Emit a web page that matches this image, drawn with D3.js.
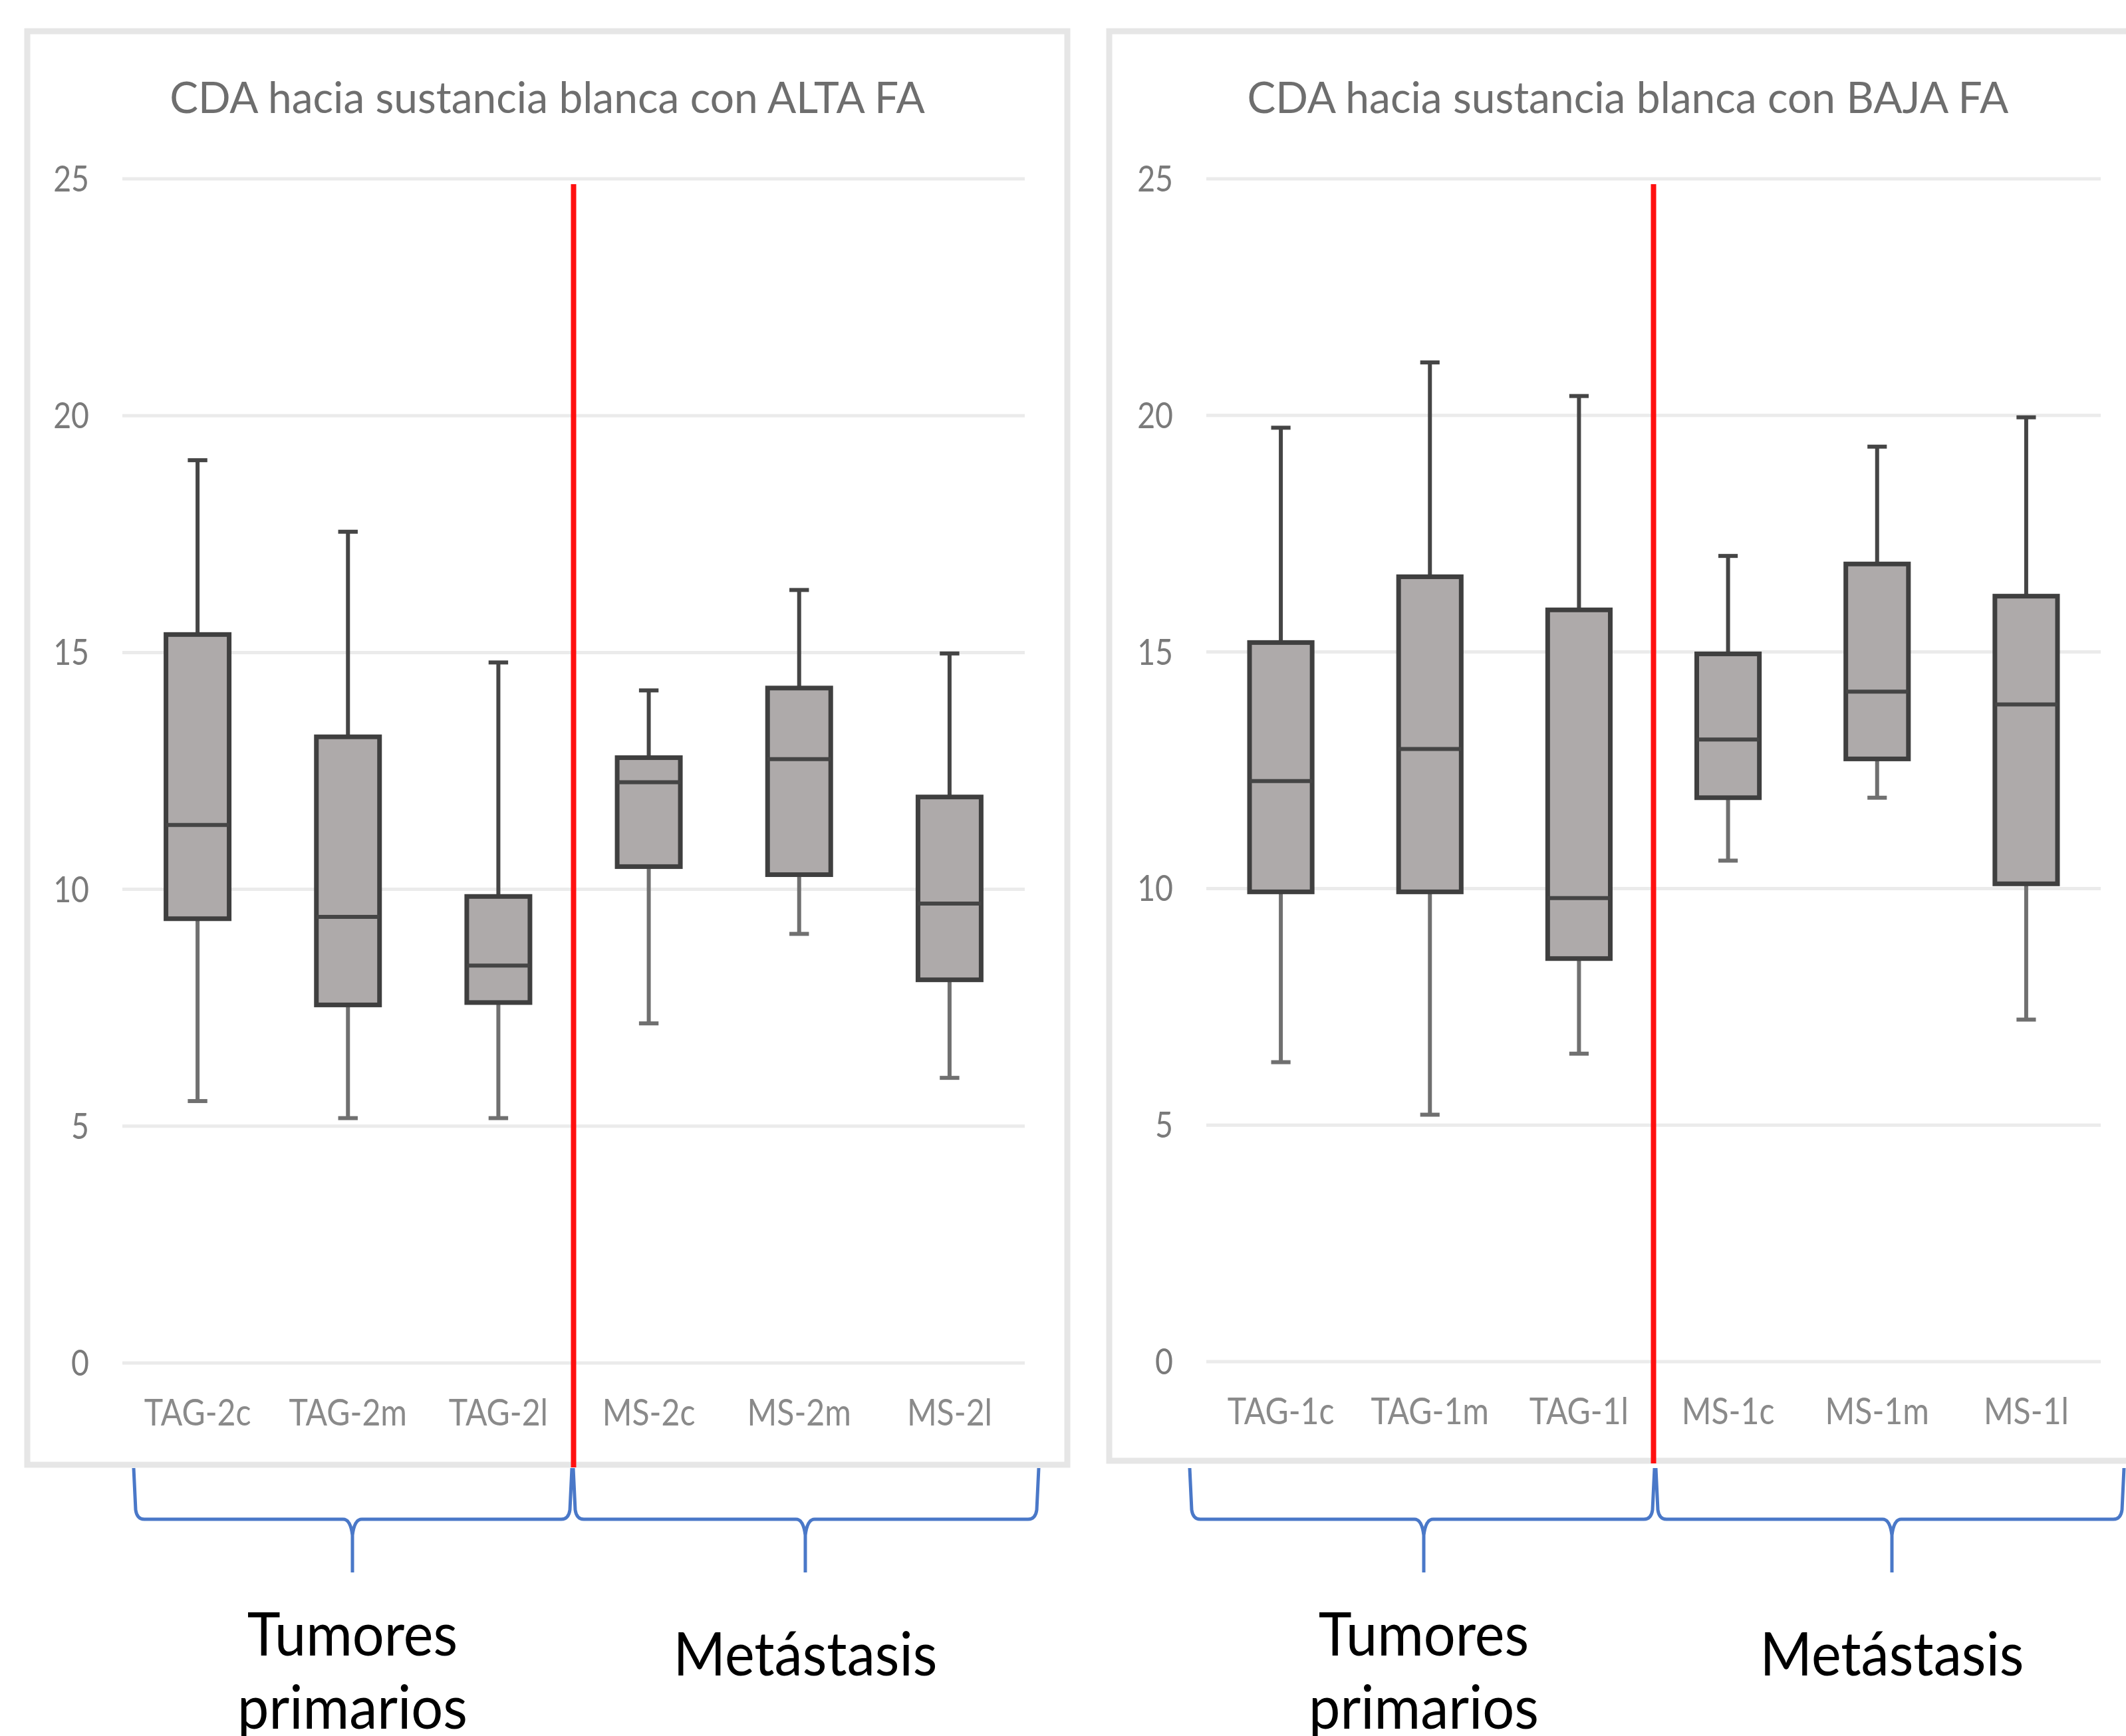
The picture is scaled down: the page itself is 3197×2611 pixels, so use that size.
<!DOCTYPE html>
<html>
<head>
<meta charset="utf-8">
<script src="https://cdn.jsdelivr.net/npm/d3@7"></script>
<style>
  body { margin: 0; background: #fff; }
  text { font-family: Lato, "Open Sans", sans-serif; }
</style>
</head>
<body>
<div id="root"></div>
<script>
// y axis ticks (same for both panels)
var yTicks = [0, 5, 10, 15, 20, 25];

// ALTA FA panel
var altaTitle = "CDA hacia sustancia blanca con ALTA FA";
var altaLabels = ["TAG-2c", "TAG-2m", "TAG-2l", "MS-2c", "MS-2m", "MS-2l"];
var altaMin = [5.53, 5.17, 5.17, 7.17, 9.06, 6.02];
var altaQ1 = [9.38, 7.56, 7.61, 10.48, 10.31, 8.09];
var altaMed = [11.36, 9.42, 8.39, 12.26, 12.75, 9.7];
var altaQ3 = [15.38, 13.22, 9.85, 12.78, 14.25, 11.95];
var altaMax = [19.06, 17.55, 14.79, 14.2, 16.32, 14.98];

// BAJA FA panel
var bajaTitle = "CDA hacia sustancia blanca con BAJA FA";
var bajaLabels = ["TAG-1c", "TAG-1m", "TAG-1l", "MS-1c", "MS-1m", "MS-1l"];
var bajaMin = [6.33, 5.22, 6.51, 10.59, 11.92, 7.23];
var bajaQ1 = [9.93, 9.93, 8.52, 11.92, 12.74, 10.1];
var bajaMed = [12.27, 12.95, 9.8, 13.15, 14.16, 13.89];
var bajaQ3 = [15.2, 16.59, 15.89, 14.96, 16.86, 16.18];
var bajaMax = [19.74, 21.12, 20.41, 17.03, 19.34, 19.96];

// groups under each panel
var groupNames = [["Tumores", "primarios"], ["Metástasis"]];

var W = 3197, H = 2611;

var svg = d3.select("#root").append("svg")
  .attr("width", W)
  .attr("height", H);

svg.append("rect").attr("width", W).attr("height", H).attr("fill", "#fff");

// squeeze a text element horizontally (the original font is narrow)
function squeeze(sel, k) {
  sel.each(function () {
    var n = this.getComputedTextLength();
    d3.select(this).attr("textLength", n * k).attr("lengthAdjust", "spacingAndGlyphs");
  });
}

function brace(x0, x1, xc, yTop, yMid, yTip) {
  var p = d3.path();
  p.moveTo(x0, yTop);
  p.lineTo(x0 + 3, yMid - 14);
  p.quadraticCurveTo(x0 + 5, yMid, x0 + 16, yMid);
  p.lineTo(xc - 14, yMid);
  p.quadraticCurveTo(xc - 3, yMid, xc, yMid + 24);
  p.lineTo(xc, yTip);
  p.moveTo(xc, yMid + 24);
  p.quadraticCurveTo(xc + 3, yMid, xc + 14, yMid);
  p.lineTo(x1 - 16, yMid);
  p.quadraticCurveTo(x1 - 5, yMid, x1 - 3, yMid - 14);
  p.lineTo(x1, yTop);
  return p.toString();
}

function drawPanel(cfg) {
  var g = svg.append("g");

  // chart frame
  g.append("rect")
    .attr("x", cfg.frame[0]).attr("y", cfg.frame[1])
    .attr("width", cfg.frame[2]).attr("height", cfg.frame[3])
    .attr("fill", "#fff")
    .attr("stroke", "#e6e6e6")
    .attr("stroke-width", 9);

  var x = d3.scaleBand()
    .domain(cfg.labels)
    .range([cfg.gx0, cfg.gx1]);

  var y = d3.scaleLinear()
    .domain([0, 25])
    .range([cfg.y0, cfg.y25]);

  // grid lines
  g.append("g").selectAll("line")
    .data(yTicks)
    .enter().append("line")
    .attr("x1", cfg.gx0).attr("x2", cfg.gx1)
    .attr("y1", function (d) { return y(d); })
    .attr("y2", function (d) { return y(d); })
    .attr("stroke", "#ebebeb")
    .attr("stroke-width", 5);

  // y tick labels
  var yl = g.append("g").selectAll("text")
    .data(yTicks)
    .enter().append("text")
    .attr("x", cfg.gx0 - 50)
    .attr("y", function (d) { return y(d) + 19; })
    .attr("text-anchor", "end")
    .attr("font-size", 54)
    .attr("fill", "#7a7a7a")
    .text(function (d) { return d; });
  squeeze(yl, 0.86);

  // x category labels
  var xl = g.append("g").selectAll("text")
    .data(cfg.labels)
    .enter().append("text")
    .attr("x", function (d) { return x(d) + x.bandwidth() / 2; })
    .attr("y", cfg.y0 + 94)
    .attr("text-anchor", "middle")
    .attr("font-size", 56)
    .attr("fill", "#8a8a8a")
    .text(function (d) { return d; });
  squeeze(xl, 0.86);

  // title
  var t = g.append("text")
    .attr("x", cfg.frame[0] + cfg.frame[2] / 2)
    .attr("y", 170)
    .attr("text-anchor", "middle")
    .attr("font-size", 66)
    .attr("fill", "#6e6e6e")
    .text(cfg.title);
  squeeze(t, 0.97);

  // box plots
  var bw = x.bandwidth() * 0.42;
  var cw = x.bandwidth() * 0.13;
  var stroke = "#454545";
  var boxes = g.append("g").selectAll("g")
    .data(cfg.labels)
    .enter().append("g")
    .attr("transform", function (d) { return "translate(" + (x(d) + x.bandwidth() / 2) + ",0)"; });

  boxes.append("line")
    .attr("y1", function (d, i) { return y(cfg.max[i]); })
    .attr("y2", function (d, i) { return y(cfg.q3[i]); })
    .attr("stroke", stroke).attr("stroke-width", 6);
  boxes.append("line")
    .attr("y1", function (d, i) { return y(cfg.q1[i]); })
    .attr("y2", function (d, i) { return y(cfg.min[i]); })
    .attr("stroke", "#707070").attr("stroke-width", 6);
  boxes.append("line")
    .attr("x1", -cw / 2).attr("x2", cw / 2)
    .attr("y1", function (d, i) { return y(cfg.max[i]); })
    .attr("y2", function (d, i) { return y(cfg.max[i]); })
    .attr("stroke", stroke).attr("stroke-width", 6);
  boxes.append("line")
    .attr("x1", -cw / 2).attr("x2", cw / 2)
    .attr("y1", function (d, i) { return y(cfg.min[i]); })
    .attr("y2", function (d, i) { return y(cfg.min[i]); })
    .attr("stroke", "#707070").attr("stroke-width", 6);
  boxes.append("rect")
    .attr("x", -bw / 2)
    .attr("width", bw)
    .attr("y", function (d, i) { return y(cfg.q3[i]); })
    .attr("height", function (d, i) { return y(cfg.q1[i]) - y(cfg.q3[i]); })
    .attr("fill", "#aeaaaa")
    .attr("stroke", "#3f3f3f")
    .attr("stroke-width", 7);
  boxes.append("line")
    .attr("x1", -bw / 2).attr("x2", bw / 2)
    .attr("y1", function (d, i) { return y(cfg.med[i]); })
    .attr("y2", function (d, i) { return y(cfg.med[i]); })
    .attr("stroke", "#454545").attr("stroke-width", 6);

  // red separator between primary tumours and metastases
  var sepX = x(cfg.labels[3]);
  g.append("line")
    .attr("x1", sepX).attr("x2", sepX)
    .attr("y1", cfg.y25 + 8)
    .attr("y2", cfg.frame[1] + cfg.frame[3] + 4)
    .attr("stroke", "#ff1010")
    .attr("stroke-width", 8);

  // braces and group names
  var br = cfg.braces;
  for (var i = 0; i < br.length; i++) {
    g.append("path")
      .attr("d", brace(br[i][0], br[i][1], br[i][2], 2208, 2285, 2365))
      .attr("fill", "none")
      .attr("stroke", "#4a78c8")
      .attr("stroke-width", 5);
    var lab = g.append("text")
      .attr("text-anchor", "middle")
      .attr("font-size", 92)
      .attr("fill", "#000");
    var lines = groupNames[i];
    var ly = lines.length > 1 ? 2490 : 2520;
    var sp = lab.selectAll("tspan")
      .data(lines)
      .enter().append("tspan")
      .attr("x", br[i][2])
      .attr("y", function (d, j) { return ly + j * 110; })
      .text(function (d) { return d; });
    squeeze(sp, 0.92);
  }
}

drawPanel({
  title: altaTitle,
  labels: altaLabels,
  min: altaMin, q1: altaQ1, med: altaMed, q3: altaQ3, max: altaMax,
  frame: [41, 47, 1564, 2156],
  gx0: 184, gx1: 1541,
  y0: 2050, y25: 269,
  braces: [[201, 860, 530], [862, 1562, 1211]]
});

drawPanel({
  title: bajaTitle,
  labels: bajaLabels,
  min: bajaMin, q1: bajaQ1, med: bajaMed, q3: bajaQ3, max: bajaMax,
  frame: [1668, 47, 1560, 2150],
  gx0: 1814, gx1: 3159,
  y0: 2048, y25: 269,
  braces: [[1789, 2488, 2141], [2490, 3194, 2845]]
});
</script>
</body>
</html>
